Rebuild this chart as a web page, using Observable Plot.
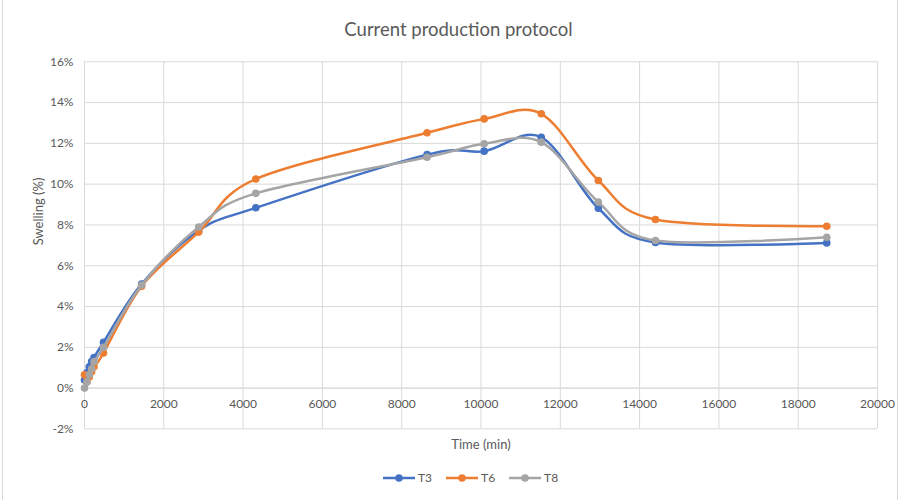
<!DOCTYPE html>
<html>
<head>
<meta charset="utf-8">
<script src="https://cdn.jsdelivr.net/npm/d3@7"></script>
<script src="https://cdn.jsdelivr.net/npm/@observablehq/plot@0.6"></script>
<style>
  body { margin: 0; background: #fff; font-family: Lato, "Open Sans", sans-serif; }
  #chart { position: relative; width: 901px; height: 500px; background: #fff; overflow: hidden; }
  #frame { position: absolute; left: 2px; top: -2px; width: 896px; height: 504px; box-sizing: border-box; border: 1px solid #d9d9d9; pointer-events: none; }
  #title { position: absolute; left: 0; top: 18px; width: 917px; text-align: center; font-size: 18.5px; color: #595959; }
  #plot { position: absolute; left: 0; top: 45px; }
  #legend { position: absolute; left: 383px; top: 470px; display: flex; gap: 14px; font-size: 12px; color: #595959; }
  .item { display: flex; align-items: center; gap: 3px; }
</style>
</head>
<body>
<div id="chart">
  <div id="title">Current production protocol</div>
  <div id="plot"></div>
  <div id="legend"></div>
  <div id="frame"></div>
</div>
<script>
// Sampling times (minutes)
const times = [0, 60, 120, 180, 240, 480, 1440, 2880, 4320, 8640, 10080, 11520, 12960, 14400, 18720];

// Swelling (%) for each sample
const t3 = [0.4, 0.75, 1.05, 1.3, 1.5, 2.25, 5.1, 7.72, 8.84, 11.45, 11.62, 12.3, 8.82, 7.14, 7.12];
const t6 = [0.65, 0.3, 0.55, 0.8, 1.05, 1.72, 5.0, 7.65, 10.25, 12.52, 13.2, 13.45, 10.18, 8.27, 7.94];
const t8 = [0.0, 0.3, 0.65, 0.95, 1.3, 2.0, 5.05, 7.9, 9.55, 11.32, 11.98, 12.06, 9.12, 7.24, 7.40];

const seriesNames = ["T3", "T6", "T8"];
const seriesColors = ["#4472C4", "#ED7D31", "#A5A5A5"];

// Axis ticks
const xTicks = [0, 2000, 4000, 6000, 8000, 10000, 12000, 14000, 16000, 18000, 20000];
const yTicks = [-2, 0, 2, 4, 6, 8, 10, 12, 14, 16];

const values = [t3, t6, t8];
const series = seriesNames.map((name, i) => ({
  name,
  color: seriesColors[i],
  rows: times.map((t, j) => ({ t, v: values[i][j] }))
}));

const gray = "#d9d9d9";
const text = "#595959";

const marks = [
  Plot.gridY(yTicks, { stroke: gray, strokeOpacity: 1 }),
  Plot.gridX(xTicks, { stroke: gray, strokeOpacity: 1 }),
  Plot.ruleY([0], { stroke: gray }),
  Plot.axisY(yTicks, {
    tickSize: 0, tickPadding: 11, tickFormat: d => d + "%",
    fill: text, fontSize: 12, label: null
  }),
  Plot.axisX({ ticks: [], label: null, tickSize: 0 }),
  // horizontal axis labels sit next to the 0% line
  Plot.text(xTicks, { x: d => d, y: 0, dy: 16.5, text: d => String(d), fill: text, fontSize: 12 }),
  Plot.text(["Time (min)"], { frameAnchor: "bottom", dy: 20, fill: text, fontSize: 13 }),
  Plot.text(["Swelling (%)"], { frameAnchor: "left", dx: -46, rotate: -90, fill: text, fontSize: 13 })
];

for (const s of series) {
  marks.push(
    Plot.line(s.rows, { x: "t", y: "v", stroke: s.color, strokeWidth: 2.5, curve: "cardinal", tension: 0 }),
    Plot.dot(s.rows, { x: "t", y: "v", fill: s.color, r: 3.8 })
  );
}

const chart = Plot.plot({
  width: 901,
  height: 415,
  marginTop: 16.3,
  marginBottom: 31.6,
  marginLeft: 84,
  marginRight: 24,
  style: { fontFamily: "Lato, 'Open Sans', sans-serif", background: "transparent" },
  x: { domain: [0, 20000] },
  y: { domain: [-2, 16] },
  marks
});
document.getElementById("plot").appendChild(chart);

// Legend
const legend = d3.select("#legend");
for (const s of series) {
  const item = legend.append("div").attr("class", "item");
  const sw = item.append("svg").attr("width", 32).attr("height", 10);
  sw.append("line").attr("x1", 0).attr("x2", 32).attr("y1", 5).attr("y2", 5)
    .attr("stroke", s.color).attr("stroke-width", 2.5);
  sw.append("circle").attr("cx", 16).attr("cy", 5).attr("r", 3.8).attr("fill", s.color);
  item.append("span").text(s.name);
}
</script>
</body>
</html>
